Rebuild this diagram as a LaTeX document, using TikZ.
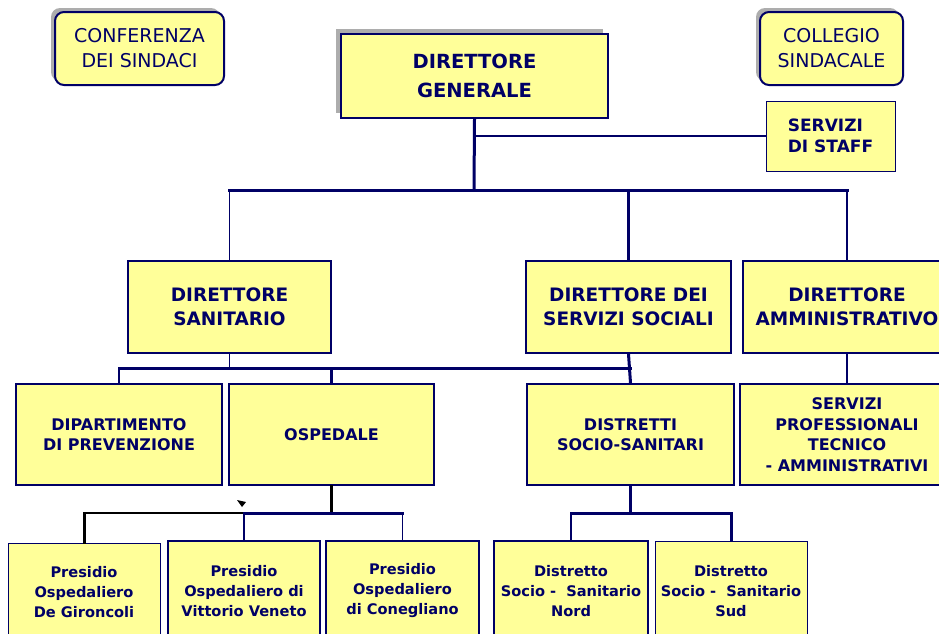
\documentclass[tikz,border=0pt]{standalone}
\usepackage{fontspec}
\setmainfont{DejaVu Sans}
\usetikzlibrary{shadows}
\definecolor{navy}{RGB}{0,0,102}
\definecolor{pale}{RGB}{255,255,153}

\begin{document}
\begin{tikzpicture}[x=1pt,y=-1pt,
    box/.style={draw=navy,fill=pale,line width=2pt,text=navy,align=center,inner sep=0pt},
    organ/.style={box,rounded corners=9pt,font=\fontsize{19}{25}\selectfont,
      drop shadow={shadow xshift=-4pt,shadow yshift=4pt,fill=black!32,opacity=1}},
    top/.style={box,font=\fontsize{19.5}{29}\selectfont\bfseries,
      drop shadow={shadow xshift=-5pt,shadow yshift=5pt,fill=black!32,opacity=1}},
    lev2/.style={box,font=\fontsize{18.5}{24}\selectfont\bfseries},
    lev3/.style={box,font=\fontsize{16}{20.5}\selectfont\bfseries},
    lev4/.style={box,font=\fontsize{14.6}{20}\selectfont\bfseries},
    thickln/.style={draw=navy,line width=3pt,line cap=rect},
    thinln/.style={draw=navy,line width=1.2pt},
    blackthick/.style={draw=black,line width=3pt,line cap=rect},
    blackthin/.style={draw=black,line width=1.3pt}]
  \clip (0,0) rectangle (939,633);

  \node[organ,minimum width=169pt,minimum height=73pt] (conf) at (139.5,48.5) {CONFERENZA\\DEI SINDACI};
  \node[organ,minimum width=143pt,minimum height=73pt] (coll) at (831.5,48.5) {COLLEGIO\\SINDACALE};
  \node[top,minimum width=267pt,minimum height=84pt] (dg) at (474.5,76) {DIRETTORE\\GENERALE};
  \node[box,line width=1pt,align=left,font=\fontsize{17}{21}\selectfont\bfseries,
    minimum width=129pt,minimum height=70pt] (staff) at (830.5,136) {SERVIZI\\DI STAFF};

  \node[lev2,minimum width=203pt,minimum height=92pt] (ds) at (229.5,307) {DIRETTORE\\SANITARIO};
  \node[lev2,minimum width=205pt,minimum height=92pt] (dss) at (628.5,307) {DIRETTORE DEI\\SERVIZI SOCIALI};
  \node[lev2,minimum width=208pt,minimum height=92pt] (da) at (847,307) {DIRETTORE\\AMMINISTRATIVO};

  \node[lev3,minimum width=206pt,minimum height=101pt] (dp) at (119,434.5) {DIPARTIMENTO\\DI PREVENZIONE};
  \node[lev3,minimum width=205pt,minimum height=101pt] (osp) at (331.5,434.5) {OSPEDALE};
  \node[lev3,minimum width=207pt,minimum height=101pt] (diss) at (630.5,434.5) {DISTRETTI\\SOCIO-SANITARI};
  \node[lev3,minimum width=214pt,minimum height=101pt] (sp) at (847,434.5) {SERVIZI\\PROFESSIONALI\\TECNICO\\- AMMINISTRATIVI};

  \node[lev4,line width=1pt,minimum width=152pt,minimum height=98pt] (pdg) at (84,592) {Presidio\\Ospedaliero\\De Gironcoli};
  \node[lev4,minimum width=152pt,minimum height=100pt] (vv) at (244,591) {Presidio\\Ospedaliero di\\Vittorio Veneto};
  \node[lev4,minimum width=153pt,minimum height=100pt] (con) at (402.5,591) {Presidio\\Ospedaliero\\di Conegliano};
  \node[lev4,minimum width=154pt,minimum height=100pt] (nord) at (571,591) {Distretto\\Socio -\ \ Sanitario\\Nord};
  \node[lev4,line width=1pt,minimum width=152pt,minimum height=100pt] (sud) at (731,591) {Distretto\\Socio -\ \ Sanitario\\Sud};

  \coordinate (bus) at (474,190);
  \coordinate (bus2) at (331,368);
  \coordinate (bus3) at (332,513);
  \coordinate (tip) at (237,500);

  \draw[thickln] (dg.south) -- (bus);
  \draw[thinln] (dg.south |- staff.west) -- (staff.west);
  \draw[thickln] (ds.north |- bus) -- (da.north |- bus);
  \draw[thinln] (ds.north |- bus) -- (ds.north);
  \draw[thickln] (dss.north |- bus) -- (dss.north);
  \draw[thinln] (da.north |- bus) -- (da.north);

  \draw[thinln] (ds.south) -- (ds.south |- bus2);
  \draw[thickln] (dp.north |- bus2) -- (diss.north |- bus2);
  \draw[thinln] (dp.north |- bus2) -- (dp.north);
  \draw[thickln] (osp.north |- bus2) -- (osp.north);
  \draw[thickln] (dss.south) -- (diss.north);
  \draw[thinln] (da.south) -- (sp.north);

  \draw[blackthick] (osp.south) -- (osp.south |- bus3);
  \draw[blackthin] (pdg.north |- bus3) -- (vv.north |- bus3);
  \draw[thickln] (vv.north |- bus3) -- (con.north |- bus3);
  \draw[blackthick] (pdg.north |- bus3) -- (pdg.north);
  \draw[thinln] (vv.north |- bus3) -- (vv.north);
  \draw[thinln] (con.north |- bus3) -- (con.north);
  \draw[thickln] (diss.south) -- (diss.south |- bus3);
  \draw[thickln] (nord.north |- bus3) -- (sud.north |- bus3);
  \draw[thinln] (nord.north |- bus3) -- (nord.north);
  \draw[thickln] (sud.north |- bus3) -- (sud.north);

  \fill (tip) -- ++(9,2) -- ++(-4,5) -- cycle;
\end{tikzpicture}
\end{document}
